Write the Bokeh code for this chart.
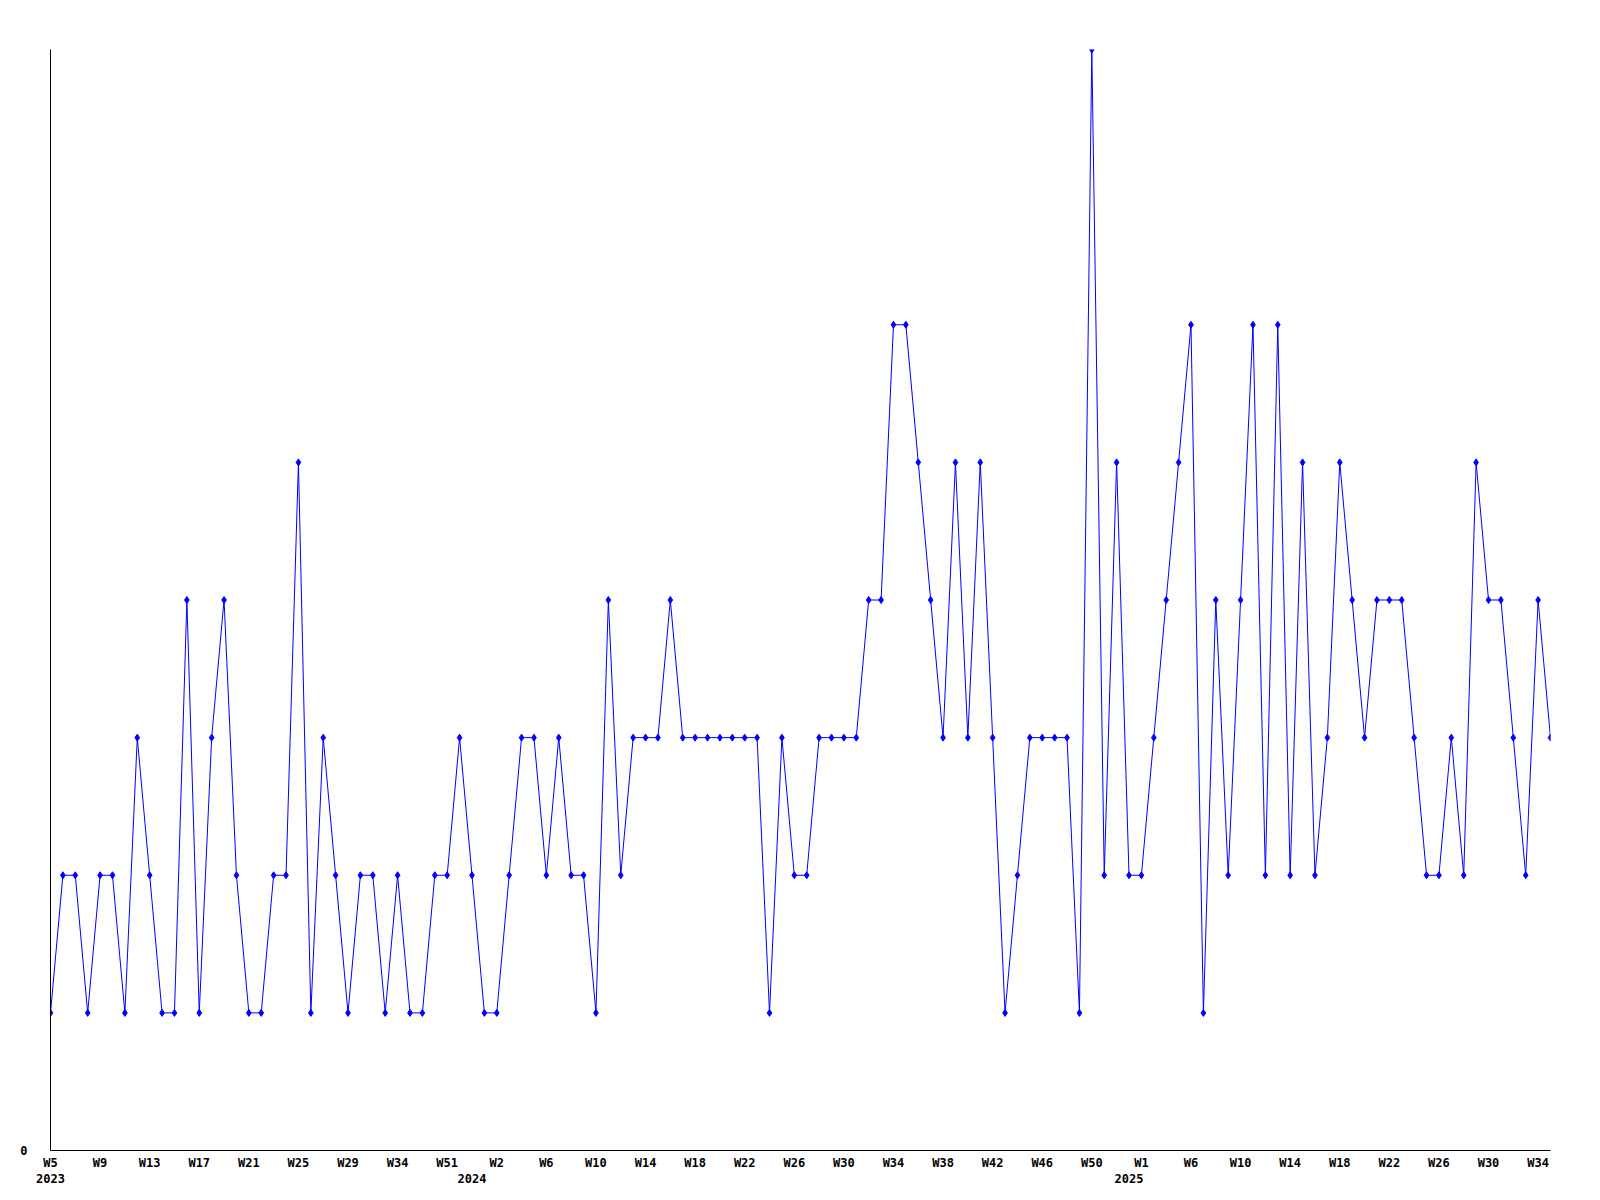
from bokeh.plotting import figure
from bokeh.models import Range1d, FixedTicker, LinearAxis
from bokeh.embed import file_html
from bokeh.resources import INLINE

# ---- data ----
values = [1, 2, 2, 1, 2, 2, 1, 3, 2, 1, 1, 4, 1, 3, 4, 2, 1, 1, 2, 2,
          5, 1, 3, 2, 1, 2, 2, 1, 2, 1, 1, 2, 2, 3, 2, 1, 1, 2, 3, 3,
          2, 3, 2, 2, 1, 4, 2, 3, 3, 3, 4, 3, 3, 3, 3, 3, 3, 3, 1, 3,
          2, 2, 3, 3, 3, 3, 4, 4, 6, 6, 5, 4, 3, 5, 3, 5, 3, 1, 2, 3,
          3, 3, 3, 1, 8, 2, 5, 2, 2, 3, 4, 5, 6, 1, 4, 2, 4, 6, 2, 6,
          2, 5, 2, 3, 5, 4, 3, 4, 4, 4, 3, 2, 2, 3, 2, 5, 4, 4, 3, 2,
          4, 3]
week_ticks = ["W5", "W9", "W13", "W17", "W21", "W25", "W29", "W34", "W51", "W2",
              "W6", "W10", "W14", "W18", "W22", "W26", "W30", "W34", "W38", "W42",
              "W46", "W50", "W1", "W6", "W10", "W14", "W18", "W22", "W26", "W30",
              "W34"]
tick_step = 4
years = ["2023", "2024", "2025"]
year_positions = [0, 34, 87]

xs = list(range(len(values)))
tick_pos = [i * tick_step for i in range(len(week_ticks))]

FONT = "DejaVu Sans Mono"

p = figure(output_backend="svg", toolbar_location=None,
           frame_width=1500, frame_height=1101,
           x_range=Range1d(0, len(values) - 1), y_range=Range1d(0, 8),
           x_axis_location=None, y_axis_location=None)
p.min_border_left = 50
p.min_border_top = 49
p.min_border_right = 40
p.min_border_bottom = 40
p.outline_line_color = None
p.xgrid.grid_line_color = None
p.ygrid.grid_line_color = None
p.background_fill_color = "white"
p.border_fill_color = "white"

p.line(xs, values, line_color="#0000ff", line_width=1)
p.scatter(xs, values, marker="diamond", size=7, color="#0000ff")

def style(ax):
    ax.major_label_text_font = FONT
    ax.major_label_text_font_style = "bold"
    ax.major_label_text_font_size = "12px"
    ax.major_label_text_color = "black"
    ax.major_tick_in = 0
    ax.major_tick_out = 0
    ax.minor_tick_in = 0
    ax.minor_tick_out = 0

# y axis (only 0 labeled)
yax = LinearAxis(ticker=FixedTicker(ticks=[0]))
style(yax)
yax.axis_line_color = "black"
yax.major_label_standoff = 23
p.add_layout(yax, "left")

# x axis with week labels
xax = LinearAxis(ticker=FixedTicker(ticks=tick_pos))
style(xax)
xax.axis_line_color = "black"
xax.major_label_standoff = 5
xax.major_label_overrides = {pos: lab for pos, lab in zip(tick_pos, week_ticks)}
p.add_layout(xax, "below")

# second row: years
yrax = LinearAxis(ticker=FixedTicker(ticks=year_positions))
style(yrax)
yrax.axis_line_color = None
yrax.major_label_standoff = 1
yrax.major_label_overrides = {pos: lab for pos, lab in zip(year_positions, years)}
p.add_layout(yrax, "below")

open("out.html", "w").write(file_html(p, INLINE))
